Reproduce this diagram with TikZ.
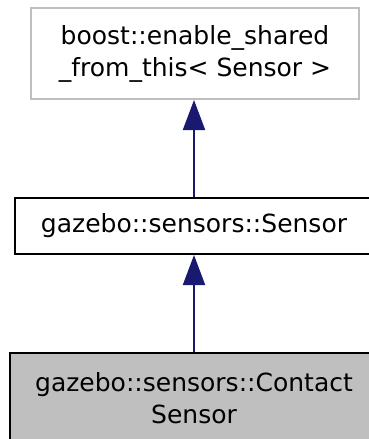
\documentclass[tikz,border=0pt]{standalone}
\usepackage{fontspec}
\setmainfont{DejaVu Sans}
\usetikzlibrary{arrows.meta}
\definecolor{navy}{HTML}{191970}
\definecolor{lgray}{HTML}{BFBFBF}
\begin{document}
\begin{tikzpicture}[x=1pt,y=1pt,
  box/.style={draw=black,line width=2pt,fill=white,align=center,inner sep=0pt,
    font=\fontsize{25}{32}\selectfont},
  inh/.style={draw=navy,line width=2pt,-{Triangle[length=30pt,width=22pt]}}]
\useasboundingbox (0,0) rectangle (369,-439);
\node[box,draw=lgray,minimum width=328pt,minimum height=91pt] (top) at (195,-53.5)
  {boost::enable\_shared\\\_from\_this< Sensor >};
\node[box,minimum width=358pt,minimum height=56pt] (mid) at (194,-226)
  {gazebo::sensors::Sensor};
\node[box,fill=lgray,minimum width=368pt,minimum height=91pt] (bot) at (194,-398.5)
  {gazebo::sensors::Contact\\Sensor};
\draw[inh] (mid.north) -- (mid.north |- top.south);
\draw[inh] (bot.north) -- (mid.south);
\end{tikzpicture}
\end{document}
